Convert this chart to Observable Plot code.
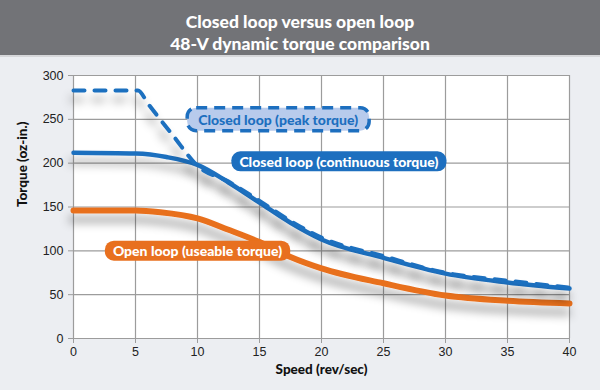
<!DOCTYPE html>
<html>
<head>
<meta charset="utf-8">
<script src="https://cdn.jsdelivr.net/npm/d3@7"></script>
<script src="https://cdn.jsdelivr.net/npm/@observablehq/plot@0.6"></script>
<style>
  html, body { margin: 0; padding: 0; background: #eceef2; width: 600px; height: 390px; overflow: hidden; }
  #title { height: 44px; padding-top: 11px; background: #727377; color: #fff; font: 900 17.5px Lato, sans-serif; text-align: center; line-height: 22px; border-bottom: 2px solid #d6d7da; }
  #chart svg { display: block; }
</style>
</head>
<body>
<div id="title">Closed loop versus open loop<br>48-V dynamic torque comparison</div>
<div id="chart"></div>
<script>
// Speed (rev/sec) and torque (oz-in.)
const openSpeed  = [0, 5, 7, 10, 12.5, 15, 17.5, 20, 25, 30, 35, 40];
const openTorque = [146, 146, 144, 137, 124, 110, 93, 80, 63, 49, 43, 40];

const contSpeed  = [0, 5, 7.5, 10, 12.5, 15, 17.5, 20, 25, 30, 35, 40];
const contTorque = [212, 211, 207, 198, 178, 155, 132, 113, 92, 74, 64, 57];

const peakSpeed  = [0, 5.2, 6, 8, 10, 12.5, 15, 17.5, 20, 25, 30, 35, 40];
const peakTorque = [283, 283, 268, 232, 197, 179, 157, 134, 115, 94, 75, 66, 58];

const xTicks = [0, 5, 10, 15, 20, 25, 30, 35, 40];
const yTicks = [0, 50, 100, 150, 200, 250, 300];

const seriesNames = ["Closed loop (peak torque)", "Closed loop (continuous torque)", "Open loop (useable torque)"];
const labelSpeed  = [16.5, 21.4, 10];
const labelTorque = [249, 201, 99];

const BLUE = "#1d6fbf", ORANGE = "#e8701f", LIGHTBLUE = "#b8cbec";

const toRows = (xs, ys) => xs.map((x, i) => ({x, y: ys[i]}));
const openData = toRows(openSpeed, openTorque);
const contData = toRows(contSpeed, contTorque);
const peakData = toRows(peakSpeed, peakTorque);
const labelData = seriesNames.map((name, i) => ({name, x: labelSpeed[i], y: labelTorque[i], i}));

const plot = Plot.plot({
  width: 600,
  height: 333,
  marginTop: 18,
  marginBottom: 52,
  marginLeft: 73,
  marginRight: 31,
  style: {background: "transparent", fontFamily: "'Liberation Sans', Arial, sans-serif", fontSize: "12.5px", color: "#222"},
  x: {domain: [0, 40]},
  y: {domain: [0, 300]},
  marks: [
    Plot.frame({fill: "white", stroke: "none"}),
    Plot.gridX(xTicks, {stroke: "#9c9c9c", strokeOpacity: 1, strokeWidth: 1.2}),
    Plot.gridY(yTicks, {stroke: "#9c9c9c", strokeOpacity: 1, strokeWidth: 1.2}),
    Plot.axisX({ticks: xTicks, tickSize: 5, tickPadding: 4, label: null, stroke: "#9c9c9c", fill: "#222"}),
    Plot.axisY({ticks: yTicks, tickSize: 5, tickPadding: 5, label: null, stroke: "#9c9c9c", fill: "#222"}),
    Plot.line(openData, {x: "x", y: "y", curve: "monotone-x", stroke: ORANGE, strokeWidth: 6, strokeLinecap: "round", className: "shadowed"}),
    Plot.line(contData, {x: "x", y: "y", curve: "monotone-x", stroke: BLUE, strokeWidth: 4.5, strokeLinecap: "round", className: "shadowed"}),
    Plot.line(peakData, {x: "x", y: "y", curve: "monotone-x", stroke: BLUE, strokeWidth: 4, strokeDasharray: "11,10", strokeLinecap: "round", className: "shadowed"}),
    Plot.text(labelData, {x: "x", y: "y", text: "name", fill: (d) => d.i === 0 ? BLUE : "white", fontWeight: 900, fontSize: 14, fontFamily: "Lato, sans-serif", className: "pill"}),
    Plot.text(["Speed (rev/sec)"], {frameAnchor: "bottom", dy: 35, fontWeight: 900, fontSize: 13.5, fontFamily: "Lato, sans-serif", fill: "#111"}),
    Plot.text(["Torque (oz-in.)"], {frameAnchor: "left", dx: -51, rotate: -90, fontWeight: 900, fontSize: 13.5, fontFamily: "Lato, sans-serif", fill: "#111"})
  ]
});

document.getElementById("chart").appendChild(plot);

// Drop shadow filter for the lines
const svg = d3.select(plot);
const defs = svg.insert("defs", ":first-child");
const f = defs.append("filter").attr("id", "lineShadow").attr("x", "-10%").attr("y", "-30%").attr("width", "130%").attr("height", "180%");
f.append("feDropShadow").attr("dx", -2).attr("dy", 9).attr("stdDeviation", 5).attr("flood-color", "#000").attr("flood-opacity", 0.38);
svg.selectAll("g.shadowed").attr("filter", "url(#lineShadow)");

// Pill-shaped backgrounds behind the series labels
const pillFill = [LIGHTBLUE, BLUE, ORANGE];
svg.selectAll("g.pill text").each(function(d, k) {
  const b = this.getBBox();
  const i = k;
  const padX = i === 0 ? 11 : 8;
  const h = i === 0 ? 23 : 20;
  const cy = b.y + b.height / 2;
  const r = d3.select(this.parentNode).insert("rect", () => this)
    .attr("transform", this.getAttribute("transform"))
    .attr("x", b.x - padX).attr("y", cy - h / 2)
    .attr("width", b.width + 2 * padX).attr("height", h)
    .attr("rx", 9).attr("ry", 9)
    .attr("fill", pillFill[i]);
  if (i === 0) r.attr("stroke", BLUE).attr("stroke-width", 3.5).attr("stroke-dasharray", "11,7");
});
</script>
</body>
</html>
